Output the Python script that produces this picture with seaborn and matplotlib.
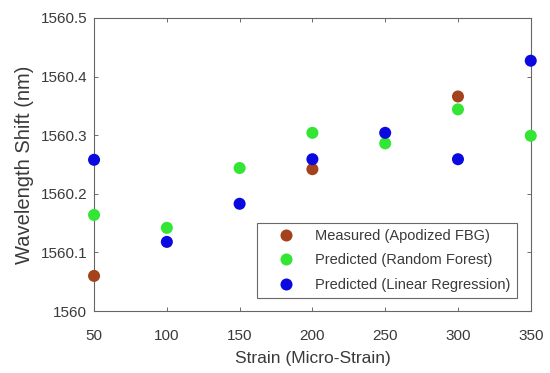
import matplotlib
matplotlib.use("Agg")
import matplotlib.pyplot as plt
import seaborn as sns
import pandas as pd

# Strain levels (micro-strain) and wavelength shifts (nm) per series
strain_measured = [50, 200, 300]
shift_measured = [1560.060, 1560.242, 1560.366]

strain_rf = [50, 100, 150, 200, 250, 300, 350]
shift_rf = [1560.164, 1560.142, 1560.244, 1560.304, 1560.286, 1560.344, 1560.299]

strain_lr = [50, 100, 150, 200, 250, 300, 350]
shift_lr = [1560.258, 1560.118, 1560.183, 1560.259, 1560.304, 1560.259, 1560.427]

series_names = ["Measured (Apodized FBG)", "Predicted (Random Forest)",
                "Predicted (Linear Regression)"]
series_colors = ["#a3421c", "#33e633", "#0a0ae0"]

x_ticks = [50, 100, 150, 200, 250, 300, 350]
y_ticks = [1560.0, 1560.1, 1560.2, 1560.3, 1560.4, 1560.5]
y_tick_labels = ["1560", "1560.1", "1560.2", "1560.3", "1560.4", "1560.5"]

df = pd.concat([
    pd.DataFrame({"Strain": strain_measured, "Shift": shift_measured, "Series": series_names[0]}),
    pd.DataFrame({"Strain": strain_rf, "Shift": shift_rf, "Series": series_names[1]}),
    pd.DataFrame({"Strain": strain_lr, "Shift": shift_lr, "Series": series_names[2]}),
], ignore_index=True)

sns.set_style("white")
plt.rcParams["font.family"] = ["Liberation Sans", "DejaVu Sans"]

fig = plt.figure(figsize=(5.5, 3.73), dpi=100)
ax = fig.add_axes([0.171, 0.166, 0.794, 0.786])

sns.scatterplot(data=df, x="Strain", y="Shift", hue="Series",
                hue_order=series_names, palette=series_colors,
                s=75, edgecolor="none", linewidth=0, ax=ax, zorder=3,
                clip_on=False)

ax.set_xlim(50, 350)
ax.set_ylim(1560.0, 1560.5)
ax.set_xticks(x_ticks)
ax.set_yticks(y_ticks)
ax.set_yticklabels(y_tick_labels)

ax.tick_params(direction="in", length=3, width=0.6, color="#555555",
               labelsize=11, labelcolor="#3a3a3a", top=True, right=True,
               bottom=True, left=True)
ax.tick_params(axis="x", pad=13)
ax.tick_params(axis="y", pad=5)
for sp in ax.spines.values():
    sp.set_visible(True)
    sp.set_color("#666666")
    sp.set_linewidth(0.8)

ax.set_xlabel("Strain (Micro-Strain)", fontsize=12.5, color="#3a3a3a", labelpad=6)
ax.set_ylabel("Wavelength Shift (nm)", fontsize=14.5, color="#3a3a3a", labelpad=5)

leg = ax.legend(loc="lower right", bbox_to_anchor=(0.968, 0.044), fontsize=10.5,
                frameon=True, fancybox=False, edgecolor="#444444",
                handletextpad=0.5, borderpad=0.45, labelspacing=0.7,
                markerscale=1.0, handlelength=3.0, borderaxespad=0)
leg.get_frame().set_linewidth(0.8)
for t in leg.get_texts():
    t.set_color("#3a3a3a")

fig.savefig("out.png", dpi=100)
